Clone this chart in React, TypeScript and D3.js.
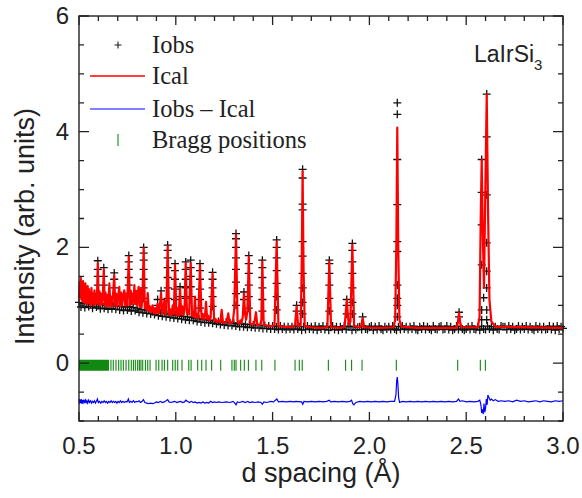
import * as d3 from 'd3';

// axis ranges and labels
const xDomain: [number, number] = [0.5, 3.0];
const yDomain: [number, number] = [-1, 6];
const xTicks = [0.5, 1.0, 1.5, 2.0, 2.5, 3.0];
const yTicks = [0, 2, 4, 6];

// calculated profile (Ical), vertices
const icalPts: [number, number][] = [
  [0.500, 1.12], [0.503, 1.40], [0.506, 1.15], [0.509, 1.48], [0.512, 1.10], [0.515, 1.35], [0.518, 1.06],
  [0.521, 1.42], [0.524, 1.12], [0.527, 1.30], [0.530, 1.04], [0.533, 1.38], [0.536, 1.08], [0.539, 1.25],
  [0.542, 1.02], [0.545, 1.33], [0.548, 1.06], [0.551, 1.28], [0.554, 1.03], [0.557, 1.22], [0.560, 1.00],
  [0.564, 1.30], [0.568, 1.04], [0.572, 1.20], [0.576, 1.00], [0.580, 1.26], [0.584, 1.02], [0.588, 1.18],
  [0.592, 1.03], [0.597, 1.73], [0.602, 1.02], [0.606, 1.24], [0.610, 1.00], [0.614, 1.20], [0.618, 1.02],
  [0.623, 1.15], [0.628, 1.62], [0.633, 1.00], [0.637, 1.22], [0.641, 0.98], [0.646, 1.18], [0.651, 1.00],
  [0.657, 1.38], [0.662, 0.98], [0.667, 1.15], [0.672, 0.98], [0.677, 1.25], [0.682, 1.52], [0.687, 1.00],
  [0.692, 1.20], [0.697, 0.98], [0.702, 1.15], [0.708, 1.32], [0.713, 0.98], [0.718, 1.22], [0.723, 1.00],
  [0.728, 1.15], [0.734, 1.26], [0.739, 1.00], [0.744, 1.20], [0.749, 1.00], [0.757, 1.84], [0.763, 1.00],
  [0.768, 1.25], [0.773, 1.02], [0.778, 1.20], [0.782, 1.05], [0.786, 1.35], [0.790, 1.02], [0.795, 1.25],
  [0.800, 1.00], [0.804, 1.20], [0.808, 1.32], [0.813, 0.98], [0.818, 1.28], [0.823, 0.96], [0.828, 1.15],
  [0.834, 1.99], [0.840, 0.95], [0.845, 1.05], [0.850, 0.92], [0.855, 1.21], [0.861, 0.90], [0.866, 0.98],
  [0.872, 0.88], [0.880, 1.00], [0.887, 0.86], [0.893, 0.95], [0.899, 0.86], [0.906, 1.03], [0.912, 0.86],
  [0.918, 1.00], [0.924, 1.21], [0.930, 0.85], [0.936, 0.95], [0.941, 1.08], [0.946, 0.84], [0.951, 0.92],
  [0.958, 2.02], [0.965, 0.84], [0.972, 0.93], [0.978, 0.83], [0.984, 1.00], [0.990, 0.85], [0.996, 1.70],
  [1.003, 0.83], [1.010, 0.95], [1.015, 0.82], [1.022, 1.29], [1.028, 0.84], [1.034, 0.98], [1.040, 0.83],
  [1.045, 0.92], [1.051, 1.73], [1.058, 0.85], [1.064, 0.92], [1.069, 0.84], [1.077, 1.73], [1.084, 0.82],
  [1.090, 0.88], [1.094, 0.80], [1.099, 1.15], [1.104, 0.78], [1.110, 0.85], [1.116, 0.78], [1.125, 1.70],
  [1.133, 0.77], [1.140, 0.85], [1.146, 0.75], [1.151, 0.82], [1.156, 1.06], [1.162, 0.76], [1.168, 0.82],
  [1.174, 0.74], [1.180, 0.80], [1.190, 1.55], [1.198, 0.73], [1.206, 0.76], [1.214, 0.71], [1.222, 0.74],
  [1.230, 0.71], [1.237, 0.92], [1.244, 0.70], [1.255, 0.70], [1.263, 0.72], [1.271, 0.86], [1.278, 0.69],
  [1.290, 0.70], [1.296, 0.75], [1.302, 0.95], [1.311, 2.22], [1.319, 0.72], [1.326, 0.68], [1.334, 0.74],
  [1.340, 0.70], [1.346, 0.80], [1.352, 1.21], [1.358, 0.85], [1.363, 0.75], [1.370, 0.90], [1.377, 1.84],
  [1.385, 0.68], [1.395, 0.67], [1.405, 0.68], [1.414, 0.88], [1.421, 0.66], [1.435, 0.66], [1.442, 0.75],
  [1.447, 1.76], [1.454, 0.66], [1.470, 0.65], [1.500, 0.64], [1.510, 0.66], [1.521, 2.10], [1.530, 0.64],
  [1.560, 0.63], [1.600, 0.62], [1.616, 0.66], [1.624, 0.98], [1.632, 0.64], [1.645, 0.65], [1.650, 1.60],
  [1.655, 3.32], [1.660, 1.60], [1.666, 0.64], [1.700, 0.62], [1.750, 0.61], [1.783, 0.62], [1.793, 1.76],
  [1.802, 0.62], [1.850, 0.61], [1.872, 0.63], [1.883, 1.09], [1.893, 0.66], [1.902, 0.72], [1.912, 2.05],
  [1.921, 0.64], [1.950, 0.62], [1.958, 0.64], [1.965, 0.78], [1.972, 0.62], [2.050, 0.61], [2.125, 0.62],
  [2.133, 0.75], [2.139, 2.00], [2.144, 4.07], [2.149, 2.00], [2.155, 0.75], [2.165, 0.63], [2.250, 0.61],
  [2.450, 0.61], [2.457, 0.70], [2.463, 0.87], [2.469, 0.70], [2.476, 0.62], [2.560, 0.62], [2.569, 0.80],
  [2.575, 2.50], [2.580, 3.52], [2.586, 2.20], [2.592, 1.30], [2.598, 2.80], [2.606, 4.64], [2.613, 2.60],
  [2.620, 1.10], [2.630, 0.72], [2.650, 0.63], [3.000, 0.61],
];

// observed points on the peaks: position and the heights of the crosses
const obsPeaks: [number, number[]][] = [
  [0.597, [1.77, 1.62, 1.5, 1.35, 1.2]],
  [0.628, [1.65, 1.5, 1.35]],
  [0.682, [1.56, 1.45, 1.3]],
  [0.757, [1.86, 1.75, 1.62, 1.48, 1.35, 1.2]],
  [0.834, [2.0, 1.9, 1.78, 1.62, 1.45, 1.3, 1.12]],
  [0.906, [1.1, 1.0]],
  [0.924, [1.25, 1.1]],
  [0.958, [2.04, 1.95, 1.82, 1.65, 1.48, 1.3, 1.12]],
  [0.996, [1.72, 1.6, 1.45, 1.28, 1.1]],
  [1.022, [1.32, 1.15]],
  [1.051, [1.75, 1.62, 1.45, 1.3, 1.12]],
  [1.077, [1.78, 1.65, 1.5, 1.32, 1.15]],
  [1.125, [1.72, 1.6, 1.45, 1.28, 1.1, 0.95]],
  [1.19, [1.57, 1.45, 1.3, 1.15, 0.98]],
  [1.311, [2.24, 2.15, 2.0, 1.82, 1.62, 1.4, 1.2, 1.0]],
  [1.352, [1.23, 1.1]],
  [1.377, [1.86, 1.72, 1.55, 1.35, 1.15, 0.95]],
  [1.447, [1.78, 1.65, 1.48, 1.3, 1.1, 0.9]],
  [1.521, [2.13, 2.0, 1.82, 1.6, 1.38, 1.15, 0.92]],
  [1.624, [1.0, 0.9]],
  [1.655, [3.35, 3.2, 2.75, 2.65, 2.1, 1.85, 1.55, 1.3, 1.05, 0.85]],
  [1.793, [1.78, 1.72, 1.55, 1.35, 1.12, 0.9]],
  [1.883, [1.1, 1.0, 0.85]],
  [1.912, [2.07, 1.95, 1.75, 1.55, 1.3, 1.05, 0.85]],
  [1.965, [0.8]],
  [2.144, [4.5, 4.3, 3.52, 2.74, 2.1, 1.93, 1.35, 1.12, 1.0, 0.8]],
  [2.463, [0.88, 0.8]],
  [2.58, [3.52, 2.95, 2.39, 1.7, 0.92, 0.75]],
  [2.59, [1.13]],
  [2.606, [4.65, 3.91, 2.91, 2.08, 1.59, 1.3, 0.92, 0.75]],
];

// observed background points, one every 0.01 from 0.50
const obsBaseStart = 0.5;
const obsBaseStep = 0.01;
const obsBaseI = [
  1.05, 0.97, 1.03, 0.96, 1.06, 0.98, 1.02, 0.95, 1.04, 0.97,
  1.01, 0.94, 1.03, 0.95, 1.00, 0.93, 1.02, 0.94, 0.99, 0.93,
  0.99, 0.92, 0.98, 0.91, 0.97, 0.92, 0.98, 0.90, 0.96, 0.91,
  0.95, 0.88, 0.93, 0.87, 0.92, 0.86, 0.91, 0.85, 0.89, 0.84,
  0.88, 0.82, 0.87, 0.81, 0.86, 0.80, 0.85, 0.79, 0.84, 0.78,
  0.83, 0.77, 0.82, 0.76, 0.81, 0.75, 0.80, 0.74, 0.79, 0.74,
  0.78, 0.72, 0.77, 0.71, 0.76, 0.70, 0.75, 0.70, 0.74, 0.69,
  0.73, 0.68, 0.72, 0.67, 0.71, 0.66, 0.71, 0.65, 0.70, 0.65,
  0.69, 0.64, 0.68, 0.63, 0.68, 0.63, 0.67, 0.62, 0.67, 0.62,
  0.66, 0.61, 0.66, 0.61, 0.65, 0.60, 0.65, 0.60, 0.64, 0.59,
  0.64, 0.59, 0.63, 0.58, 0.64, 0.59, 0.63, 0.58, 0.63, 0.59,
  0.63, 0.58, 0.64, 0.59, 0.63, 0.57, 0.63, 0.58, 0.64, 0.59,
  0.63, 0.58, 0.64, 0.57, 0.63, 0.59, 0.64, 0.58, 0.63, 0.57,
  0.62, 0.64, 0.58, 0.63, 0.57, 0.63, 0.59, 0.64, 0.58, 0.63,
  0.63, 0.57, 0.64, 0.58, 0.62, 0.63, 0.58, 0.64, 0.59, 0.58,
  0.62, 0.64, 0.57, 0.63, 0.58, 0.64, 0.59, 0.57, 0.63, 0.59,
  0.63, 0.58, 0.64, 0.59, 0.57, 0.63, 0.58, 0.64, 0.59, 0.63,
  0.58, 0.63, 0.59, 0.64, 0.58, 0.57, 0.63, 0.59, 0.64, 0.58,
  0.63, 0.59, 0.57, 0.64, 0.59, 0.58, 0.63, 0.64, 0.58, 0.59,
  0.64, 0.58, 0.63, 0.57, 0.59, 0.64, 0.58, 0.63, 0.59, 0.57,
  0.59, 0.63, 0.58, 0.64, 0.59, 0.58, 0.63, 0.57, 0.64, 0.59,
  0.58, 0.64, 0.59, 0.63, 0.57, 0.63, 0.59, 0.58, 0.64, 0.63,
  0.63, 0.58, 0.64, 0.59, 0.63, 0.57, 0.59, 0.64, 0.58, 0.63,
  0.59, 0.64, 0.58, 0.63, 0.59, 0.57, 0.64, 0.59, 0.63, 0.58,
  0.63, 0.58, 0.59, 0.64, 0.58, 0.63, 0.57, 0.64, 0.59, 0.63,
  0.60,
];

// difference curve (Iobs - Ical), offset below zero
const diffPts: [number, number][] = [
  [0.500, -0.62], [0.503, -0.70], [0.506, -0.63], [0.509, -0.69], [0.512, -0.62], [0.515, -0.70],
  [0.518, -0.64], [0.521, -0.68], [0.525, -0.63], [0.529, -0.69], [0.533, -0.64], [0.537, -0.68],
  [0.541, -0.65], [0.545, -0.69], [0.550, -0.64], [0.555, -0.68], [0.560, -0.65], [0.565, -0.69],
  [0.570, -0.66], [0.575, -0.68], [0.580, -0.65], [0.585, -0.69], [0.590, -0.66], [0.595, -0.62],
  [0.600, -0.68], [0.606, -0.66], [0.612, -0.69], [0.618, -0.66], [0.624, -0.68], [0.630, -0.65],
  [0.636, -0.68], [0.642, -0.66], [0.648, -0.69], [0.654, -0.66], [0.660, -0.68], [0.666, -0.65],
  [0.672, -0.68], [0.678, -0.66], [0.684, -0.68], [0.690, -0.66], [0.696, -0.69], [0.702, -0.66],
  [0.708, -0.68], [0.714, -0.65], [0.720, -0.68], [0.727, -0.66], [0.734, -0.68], [0.741, -0.66],
  [0.748, -0.67], [0.755, -0.62], [0.760, -0.68], [0.767, -0.66], [0.774, -0.68], [0.781, -0.65],
  [0.788, -0.68], [0.795, -0.66], [0.802, -0.67], [0.810, -0.65], [0.818, -0.68], [0.826, -0.66],
  [0.833, -0.63], [0.840, -0.68], [0.850, -0.69], [0.860, -0.70], [0.870, -0.69], [0.880, -0.70],
  [0.890, -0.69], [0.900, -0.67], [0.910, -0.68], [0.920, -0.66], [0.930, -0.68], [0.940, -0.67],
  [0.950, -0.65], [0.958, -0.63], [0.965, -0.67], [0.975, -0.68], [0.985, -0.67], [0.995, -0.66],
  [1.005, -0.68], [1.015, -0.67], [1.025, -0.66], [1.035, -0.68], [1.045, -0.67], [1.052, -0.64],
  [1.060, -0.66], [1.070, -0.68], [1.080, -0.66], [1.090, -0.68], [1.100, -0.67], [1.110, -0.69],
  [1.120, -0.68], [1.130, -0.69], [1.140, -0.67], [1.150, -0.69], [1.160, -0.68], [1.170, -0.69],
  [1.180, -0.66], [1.190, -0.68], [1.200, -0.67], [1.210, -0.68], [1.220, -0.67], [1.240, -0.68],
  [1.260, -0.67], [1.280, -0.68], [1.295, -0.66], [1.305, -0.69], [1.311, -0.72], [1.318, -0.67],
  [1.330, -0.68], [1.345, -0.66], [1.360, -0.68], [1.372, -0.66], [1.380, -0.68], [1.395, -0.67],
  [1.410, -0.68], [1.425, -0.67], [1.440, -0.68], [1.447, -0.71], [1.455, -0.67], [1.470, -0.68],
  [1.490, -0.66], [1.505, -0.67], [1.515, -0.64], [1.522, -0.62], [1.530, -0.67], [1.550, -0.66],
  [1.570, -0.67], [1.590, -0.66], [1.610, -0.67], [1.620, -0.66], [1.650, -0.67], [1.656, -0.71],
  [1.662, -0.66], [1.680, -0.67], [1.700, -0.66], [1.720, -0.67], [1.740, -0.66], [1.760, -0.67],
  [1.780, -0.66], [1.793, -0.64], [1.800, -0.67], [1.820, -0.66], [1.840, -0.67], [1.860, -0.66],
  [1.880, -0.67], [1.900, -0.66], [1.908, -0.64], [1.914, -0.70], [1.920, -0.72], [1.930, -0.68],
  [1.950, -0.66], [1.970, -0.67], [1.990, -0.66], [2.010, -0.67], [2.030, -0.66], [2.050, -0.67],
  [2.070, -0.66], [2.090, -0.67], [2.110, -0.66], [2.130, -0.66], [2.137, -0.55], [2.141, -0.30],
  [2.144, -0.24], [2.147, -0.35], [2.151, -0.60], [2.156, -0.68], [2.170, -0.66], [2.190, -0.67],
  [2.210, -0.66], [2.230, -0.67], [2.250, -0.66], [2.270, -0.67], [2.290, -0.66], [2.310, -0.67],
  [2.330, -0.66], [2.350, -0.67], [2.370, -0.66], [2.390, -0.67], [2.410, -0.66], [2.430, -0.67],
  [2.450, -0.66], [2.460, -0.62], [2.468, -0.66], [2.480, -0.65], [2.500, -0.67], [2.520, -0.66],
  [2.540, -0.67], [2.560, -0.66], [2.570, -0.64], [2.576, -0.72], [2.580, -0.86], [2.584, -0.80],
  [2.588, -0.88], [2.592, -0.70], [2.596, -0.85], [2.600, -0.78], [2.604, -0.62], [2.608, -0.72],
  [2.612, -0.55], [2.618, -0.60], [2.624, -0.64], [2.630, -0.62], [2.640, -0.65], [2.650, -0.63],
  [2.665, -0.66], [2.680, -0.65], [2.700, -0.66], [2.720, -0.65], [2.740, -0.67], [2.760, -0.64],
  [2.780, -0.66], [2.800, -0.65], [2.820, -0.67], [2.840, -0.66], [2.860, -0.65], [2.880, -0.67],
  [2.900, -0.65], [2.920, -0.66], [2.940, -0.67], [2.960, -0.65], [2.980, -0.66], [3.000, -0.65],
];

// reflection positions (d, Å)
const braggD = [
  0.502, 0.506, 0.509, 0.513, 0.517, 0.520, 0.524, 0.528, 0.531, 0.535, 0.539, 0.542, 0.546,
  0.550, 0.553, 0.557, 0.561, 0.565, 0.568, 0.572, 0.576, 0.580, 0.584, 0.588, 0.592, 0.596,
  0.600, 0.604, 0.608, 0.612, 0.616, 0.621, 0.625, 0.629, 0.634, 0.638, 0.643, 0.647, 0.652,
  0.665, 0.677, 0.691, 0.705, 0.717, 0.729, 0.743, 0.757, 0.770, 0.781, 0.791, 0.803, 0.812,
  0.820, 0.829, 0.843, 0.855, 0.867, 0.898, 0.912, 0.929, 0.941, 0.958, 0.984, 0.997, 1.010,
  1.032, 1.067, 1.079, 1.113, 1.134, 1.156, 1.185, 1.232, 1.290, 1.302, 1.311, 1.335, 1.354,
  1.375, 1.414, 1.444, 1.512, 1.616, 1.638, 1.653, 1.788, 1.877, 1.908, 1.962, 2.139, 2.456,
  2.573, 2.599,
];
const braggSpan: [number, number] = [0.06, -0.13];

const legendLabels = ['Iobs', 'Ical', 'Iobs \u2013 Ical', 'Bragg positions'];

const SANS = 'Liberation Sans, Arial, sans-serif';
const SERIF = 'Liberation Serif, Times New Roman, serif';

function crossPath(pts: [number, number][], s: number) {
  return pts.map(([px, py]) => `M${px - s},${py}h${2 * s}M${px},${py - s}v${2 * s}`).join('');
}

export default function App() {
  const W = 582;
  const H = 498;
  const left = 79, right = 563, top = 16, bottom = 421;

  const x = d3.scaleLinear().domain(xDomain).range([left, right]);
  const y = d3.scaleLinear().domain(yDomain).range([bottom, top]);
  const line = d3
    .line<[number, number]>()
    .x((d) => x(d[0]))
    .y((d) => y(d[1]));

  const obsPts: [number, number][] = [];
  obsBaseI.forEach((v, i) => obsPts.push([x(obsBaseStart + i * obsBaseStep), y(v)]));
  obsPeaks.forEach(([d, hs]) => hs.forEach((h) => obsPts.push([x(d), y(h)])));

  const xMinor = d3.range(0.5, 3.0001, 0.1);
  const yMinor = d3.range(-1, 6.0001, 0.5);
  const isMajorX = (v: number) => xTicks.some((t) => Math.abs(t - v) < 1e-6);
  const isMajorY = (v: number) => yTicks.some((t) => Math.abs(t - v) < 1e-6);

  let tickPath = '';
  xMinor.forEach((v) => {
    const len = isMajorX(v) ? 9 : 5;
    const px = x(v);
    tickPath += `M${px},${bottom}v${-len}M${px},${top}v${len}`;
  });
  yMinor.forEach((v) => {
    const len = isMajorY(v) ? 10 : 5;
    const py = y(v);
    tickPath += `M${left},${py}h${len}M${right},${py}h${-len}`;
  });

  const braggPath = braggD
    .map((d) => `M${x(d)},${y(braggSpan[0])}V${y(braggSpan[1])}`)
    .join('');

  const lgX = 118;
  const lgText = 152;
  const lgY = [45, 76, 109, 140];

  return (
    <svg
      width={W}
      height={H}
      viewBox={`0 0 ${W} ${H}`}
      style={{ position: 'absolute', left: 0, top: 0, background: '#fff' }}
    >
      {/* observed crosses */}
      <path d={crossPath(obsPts, 4)} stroke="#111" strokeWidth={1.3} fill="none" />
      {/* calculated */}
      <path d={line(icalPts) ?? ''} stroke="#ff0000" strokeWidth={2.2} fill="none" strokeLinejoin="round" />
      {/* difference */}
      <path d={line(diffPts) ?? ''} stroke="#0000ff" strokeWidth={1.2} fill="none" />
      {/* bragg positions */}
      <path d={braggPath} stroke="#118811" strokeWidth={1.1} fill="none" />

      {/* frame and ticks */}
      <rect x={left} y={top} width={right - left} height={bottom - top} fill="none" stroke="#222" strokeWidth={1.4} />
      <path d={tickPath} stroke="#222" strokeWidth={1.3} fill="none" />

      {xTicks.map((t) => (
        <text key={t} x={x(t)} y={bottom + 33} textAnchor="middle" fontFamily={SANS} fontSize={24} fill="#222">
          {d3.format('.1f')(t)}
        </text>
      ))}
      {yTicks.map((t) => (
        <text key={t} x={left - 10} y={y(t) + 8} textAnchor="end" fontFamily={SANS} fontSize={24} fill="#222">
          {t}
        </text>
      ))}

      <text x={(left + right) / 2} y={482} textAnchor="middle" fontFamily={SANS} fontSize={27} fill="#222">
        d spacing (Å)
      </text>
      <text
        transform={`translate(34,${(top + bottom) / 2 + 8}) rotate(-90)`}
        textAnchor="middle"
        fontFamily={SANS}
        fontSize={27}
        fill="#222"
      >
        Intensity (arb. units)
      </text>

      {/* legend */}
      <path d={crossPath([[lgX, lgY[0]]], 3.5)} stroke="#1a1a1a" strokeWidth={1.1} />
      <line x1={90} x2={145} y1={lgY[1]} y2={lgY[1]} stroke="#ff0000" strokeWidth={1.5} />
      <line x1={90} x2={145} y1={lgY[2]} y2={lgY[2]} stroke="#0000ff" strokeWidth={1.2} />
      <line x1={lgX} x2={lgX} y1={lgY[3] - 6} y2={lgY[3] + 6} stroke="#118811" strokeWidth={1.1} />
      {legendLabels.map((s, i) => (
        <text key={s} x={lgText} y={lgY[i] + 8} fontFamily={SERIF} fontSize={24.5} fill="#222">
          {s}
        </text>
      ))}

      <text x={474} y={62} fontFamily={SANS} fontSize={23} fill="#222">
        LaIrSi
        <tspan fontSize={15} dy={8}>3</tspan>
      </text>
    </svg>
  );
}
